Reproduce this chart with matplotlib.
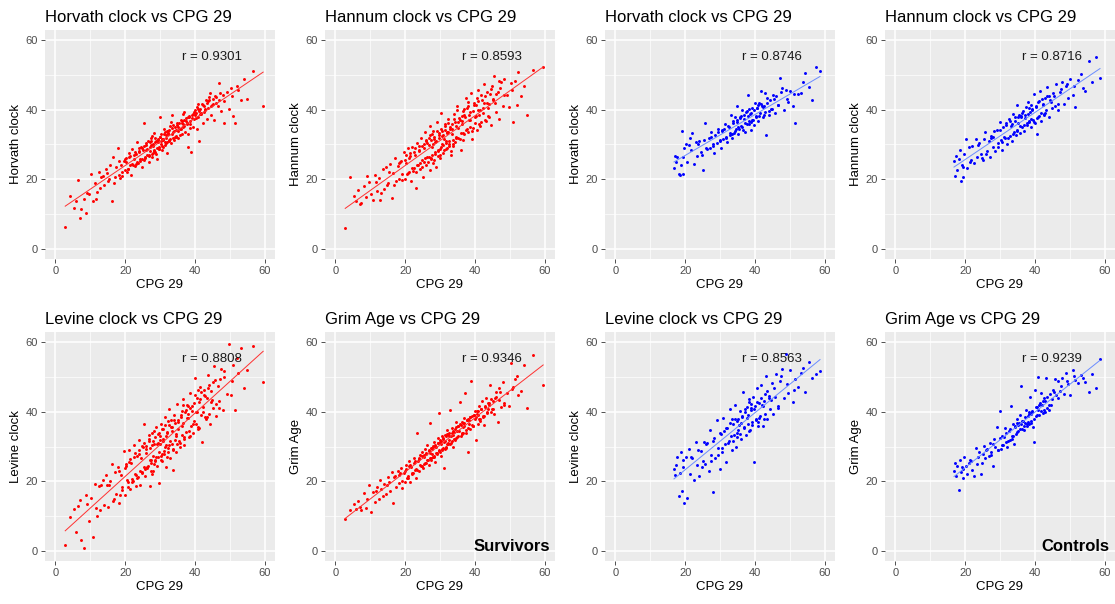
import numpy as np
import matplotlib
matplotlib.use("Agg")
import matplotlib.pyplot as plt
from matplotlib.ticker import MultipleLocator

plt.rcParams['font.family'] = ['Liberation Sans', 'DejaVu Sans']

# survivors: CPG 29 against the four epigenetic clocks
surv_cpg = [
    2.8, 4.1, 5.3, 5.9, 6.6, 7.4, 8.1, 8.9, 9.5,
    10.2, 10.8, 11.3, 11.9, 12.4, 12.9, 13.5, 14.0, 14.6, 15.1, 15.7, 16.2, 16.6, 17.1, 17.5, 17.9, 18.3, 18.8, 19.2, 19.6,
    20.0, 20.3, 20.7, 21.0, 21.4, 21.7, 22.0, 22.4, 22.7, 23.0, 23.3, 23.7, 24.0, 24.3, 24.6, 24.9, 25.2, 25.5, 25.8, 26.1,
    26.4, 26.7, 27.0, 27.2, 27.5, 27.8, 28.0, 28.3, 28.6, 28.8, 29.1, 29.4, 29.6, 29.9,
    30.2, 30.4, 30.7, 31.0, 31.2, 31.5, 31.8, 32.0, 32.3, 32.6, 32.9, 33.2, 33.5, 33.8, 34.1, 34.4, 34.7, 35.0, 35.3, 35.6,
    35.9, 36.2, 36.5, 36.9, 37.2, 37.5, 37.9, 38.2, 38.5, 38.9, 39.2, 39.6, 39.9,
    40.2, 40.5, 40.9, 41.2, 41.6, 42.0, 42.3, 42.7, 43.1, 43.5, 43.9, 44.3, 44.7, 45.1, 45.6, 46.0, 46.5, 47.0, 47.5, 48.0,
    48.5, 49.1, 49.7,
    50.3, 50.9, 51.6, 52.4, 53.3, 54.1, 55.0, 56.6, 59.6,
    15.4, 16.9, 18.1, 19.0, 19.9, 20.5, 21.2, 21.9, 22.6, 23.2,
    23.9, 24.4, 24.8, 25.4, 25.9, 26.3, 26.9, 27.3, 27.7, 28.2,
    28.5, 28.9, 29.3, 29.7, 30.0, 30.5, 30.9, 31.4, 31.7, 32.2,
    32.5, 33.0, 33.4, 33.7, 34.2, 34.6, 35.1, 35.5, 36.0, 36.4,
    36.8, 37.4, 37.8, 38.3, 38.7, 39.4, 39.8, 40.4, 40.8, 41.4,
    41.9, 42.5, 43.0, 43.7, 44.5, 45.3, 46.2, 47.2, 48.3, 11.6,
    13.2, 9.1, 7.0, 50.6, 52.0, 44.0, 41.0, 38.0, 36.7, 34.9,
    33.1, 27.6,
    20.1, 20.8, 21.5, 22.2, 22.9, 23.5, 24.1, 24.7, 25.3, 25.7,
    26.0, 26.5, 26.8, 27.1, 27.4, 27.9, 28.1, 28.4, 28.7, 29.0,
    29.5, 29.8, 30.1, 30.3, 30.6, 30.8, 31.1, 31.3, 31.6, 31.9,
    32.1, 32.4, 32.7, 33.3, 33.6, 34.0, 34.5, 35.2, 35.8, 36.3,
    36.6, 37.0, 37.7, 38.1, 38.6, 39.1, 39.7, 40.0, 40.6, 41.1,
    41.8, 42.4, 42.9, 43.4, 44.1, 44.9, 45.8, 46.8, 14.8, 18.6,
]
surv_horvath = [
    6.1, 15.2, 11.8, 13.6, 19.9, 11.5, 14.3, 10.4, 15.8,
    21.4, 13.7, 18.9, 16.4, 22.1, 17.5, 21.0, 18.2, 22.8, 19.4, 24.1, 13.6, 26.3, 20.6, 23.4, 28.9, 21.1, 24.2, 22.0, 25.3,
    22.6, 26.1, 23.0, 27.5, 24.1, 21.3, 28.6, 25.8, 23.9, 27.4, 30.6, 24.8, 27.9, 25.2, 29.3, 23.6, 28.4, 36.2, 26.0, 29.8,
    27.1, 24.9, 30.7, 28.0, 31.9, 26.5, 29.6, 33.2, 27.8, 30.9, 25.7, 31.4, 28.6, 37.8,
    30.9, 33.0, 28.4, 31.7, 34.5, 29.9, 32.6, 27.6, 33.8, 31.0, 35.2, 30.3, 38.6, 33.5, 31.2, 34.9, 32.4, 36.3, 31.8, 34.6,
    37.2, 33.1, 35.8, 39.4, 33.6, 36.7, 29.3, 37.9, 34.8, 27.7, 38.4, 35.1, 39.8,
    37.5, 34.6, 40.1, 30.9, 38.7, 41.6, 36.2, 39.5, 42.9, 37.3, 40.6, 44.7, 38.4, 41.8, 37.0, 43.6, 41.2, 47.8, 39.6, 44.3,
    36.3, 45.1, 40.2,
    46.4, 38.3, 36.2, 45.8, 42.8, 48.9, 43.0, 51.1, 41.0,
    20.0, 18.8, 25.2, 20.9, 25.9, 22.0, 26.3, 24.3, 27.0, 24.5,
    28.2, 25.9, 29.1, 25.6, 30.4, 28.7, 26.6, 29.9, 32.4, 28.3,
    30.6, 27.4, 31.7, 29.2, 32.1, 29.6, 31.3, 33.7, 30.4, 32.9,
    34.1, 31.5, 33.0, 35.6, 32.2, 34.2, 33.9, 36.1, 34.5, 36.9,
    35.2, 37.6, 36.0, 38.2, 36.8, 38.9, 37.3, 39.2, 38.0, 40.3,
    39.1, 41.2, 40.0, 42.4, 41.1, 43.0, 42.1, 44.9, 42.6, 14.2,
    20.6, 15.9, 8.9, 43.9, 47.0, 43.8, 41.7, 33.0, 38.7, 35.7,
    36.4, 27.3,
    25.1, 22.9, 26.6, 24.0, 27.8, 25.0, 28.9, 25.8, 29.5, 26.3,
    28.4, 30.9, 27.0, 29.4, 31.0, 27.6, 30.0, 28.2, 31.8, 29.0,
    30.8, 28.8, 32.3, 30.0, 31.5, 29.4, 33.0, 30.6, 32.0, 34.0,
    30.8, 33.4, 31.2, 34.7, 31.9, 34.0, 32.3, 35.0, 32.8, 36.1,
    34.9, 37.1, 36.2, 38.0, 35.9, 37.7, 39.3, 38.5, 40.8, 39.6,
    38.9, 41.4, 40.2, 41.9, 42.8, 41.5, 44.0, 42.7, 21.9, 20.4,
]
surv_hannum = [
    6.0, 20.5, 15.2, 13.7, 16.8, 13.2, 17.9, 14.8, 19.3,
    15.7, 14.1, 21.2, 16.6, 20.4, 13.9, 22.8, 17.3, 23.6, 19.0, 24.4, 14.6, 21.9, 26.2, 19.4, 23.9, 20.1, 25.3, 21.4, 27.8,
    20.0, 24.6, 28.9, 22.2, 26.7, 19.5, 29.4, 23.3, 27.1, 17.4, 30.3, 24.2, 28.5, 22.9, 31.8, 25.5, 20.6, 29.0, 33.6, 24.1,
    30.4, 26.3, 35.2, 22.7, 31.3, 27.0, 33.9, 25.4, 30.8, 23.6, 36.5, 28.1, 32.7, 26.0,
    39.2, 29.4, 33.8, 27.5, 31.6, 35.9, 28.8, 33.2, 37.4, 30.1, 34.6, 28.2, 36.0, 31.4, 38.9, 30.6, 35.4, 41.2, 32.0, 37.1,
    28.3, 35.8, 39.6, 32.9, 37.8, 43.5, 33.6, 38.4, 35.0, 44.9, 31.5, 39.7, 36.2,
    41.5, 34.3, 45.8, 38.6, 35.2, 42.7, 39.1, 47.4, 36.7, 42.0, 38.3, 44.5, 35.6, 43.2, 49.8, 39.4, 45.1, 37.3, 47.9, 41.0,
    49.0, 44.2, 40.7,
    47.6, 36.4, 48.3, 51.0, 44.1, 46.9, 38.6, 51.5, 52.2,
    22.1, 18.3, 24.7, 19.9, 25.6, 21.6, 26.0, 23.1, 27.7, 22.0,
    28.0, 24.6, 29.7, 25.0, 30.9, 26.4, 31.9, 25.8, 29.3, 32.3,
    27.2, 31.0, 26.6, 33.3, 28.6, 32.4, 29.9, 34.2, 30.5, 33.5,
    29.7, 35.0, 33.1, 30.2, 36.4, 31.9, 34.8, 37.6, 33.3, 36.8,
    38.5, 34.1, 40.4, 37.0, 39.3, 34.7, 41.4, 38.1, 42.6, 40.0,
    36.4, 41.9, 44.0, 40.6, 46.1, 42.8, 44.6, 46.3, 44.4, 19.2,
    16.0, 20.9, 12.8, 45.7, 41.5, 37.9, 39.9, 42.3, 31.4, 39.8,
    27.1, 33.0,
    26.9, 21.8, 27.5, 22.4, 28.9, 24.0, 29.6, 23.5, 30.2, 26.1,
    31.4, 25.0, 29.8, 32.6, 26.2, 30.1, 24.8, 31.7, 27.9, 33.8,
    28.5, 31.9, 27.0, 34.6, 30.0, 32.8, 28.4, 35.3, 30.9, 33.6,
    29.0, 36.2, 31.0, 34.4, 29.5, 37.3, 32.1, 36.6, 31.7, 38.1,
    33.2, 40.3, 34.4, 41.0, 37.2, 33.8, 42.1, 38.0, 43.3, 36.0,
    44.2, 40.4, 37.1, 45.0, 41.7, 46.9, 42.0, 48.4, 18.4, 24.9,
]
surv_levine = [
    1.6, 9.8, 12.1, 5.4, 12.9, 3.1, 0.7, 16.0, 8.4,
    15.3, 4.0, 19.2, 10.1, 18.5, 11.6, 20.4, 13.2, 21.8, 12.7, 20.0, 25.1, 14.4, 22.6, 16.3, 24.0, 13.8, 21.7, 17.5, 28.7,
    16.0, 24.3, 19.9, 28.9, 17.8, 25.2, 20.6, 30.5, 22.1, 18.7, 27.3, 21.2, 31.8, 19.0, 26.6, 22.4, 29.9, 36.6, 21.5, 28.1,
    24.0, 33.4, 18.6, 29.5, 25.3, 33.8, 22.9, 30.6, 26.2, 35.7, 24.5, 31.1, 19.6, 33.0,
    27.4, 36.4, 25.8, 32.2, 28.7, 38.6, 24.2, 34.1, 29.6, 40.8, 26.7, 35.6, 30.8, 23.3, 37.7, 32.0, 28.4, 42.3, 35.0, 29.9,
    38.5, 33.2, 43.6, 30.4, 39.8, 34.2, 41.7, 32.6, 45.5, 35.8, 40.3, 33.9, 49.8,
    36.4, 44.1, 35.0, 42.8, 47.2, 31.3, 41.5, 46.4, 37.9, 44.0, 50.6, 36.5, 45.9, 41.0, 53.2, 38.8, 47.3, 43.0, 52.4, 40.6,
    50.0, 45.2, 59.5,
    44.8, 53.6, 40.5, 51.2, 58.3, 47.0, 52.1, 58.9, 48.5,
    18.9, 14.9, 22.8, 18.4, 23.9, 20.3, 25.6, 19.7, 27.0, 21.9,
    27.8, 23.0, 30.1, 24.1, 29.2, 23.8, 31.5, 26.0, 30.4, 25.0,
    32.7, 27.1, 33.6, 28.4, 31.9, 27.9, 34.9, 30.0, 33.0, 28.3,
    36.2, 31.6, 34.6, 29.3, 36.9, 33.1, 37.5, 31.5, 39.0, 36.0,
    32.2, 40.6, 38.1, 34.5, 41.0, 36.6, 42.4, 40.0, 35.7, 43.8,
    39.0, 44.9, 38.6, 46.8, 42.9, 48.6, 42.2, 49.4, 51.7, 12.3,
    18.9, 13.4, 14.6, 48.9, 55.4, 39.5, 46.3, 39.4, 41.9, 30.7,
    37.6, 22.0,
    24.9, 18.2, 26.3, 20.0, 28.2, 20.8, 29.0, 22.6, 31.0, 23.4,
    30.2, 24.4, 32.3, 26.0, 23.0, 31.5, 27.4, 34.4, 25.9, 30.8,
    27.0, 34.0, 30.6, 26.2, 35.0, 31.5, 27.7, 36.3, 30.3, 33.9,
    27.1, 37.4, 30.5, 35.7, 28.9, 39.0, 33.7, 37.1, 31.0, 40.2,
    36.9, 32.6, 42.0, 38.2, 33.0, 41.6, 37.3, 44.7, 39.8, 35.4,
    45.6, 40.0, 44.5, 38.6, 47.8, 43.4, 49.2, 41.2, 18.8, 15.9,
]
surv_grim = [
    9.1, 11.7, 13.4, 12.0, 14.2, 11.6, 16.5, 12.3, 18.9,
    11.2, 16.8, 14.1, 18.3, 15.0, 20.3, 15.7, 19.2, 16.4, 21.1, 17.3, 22.6, 13.7, 21.6, 18.4, 22.9, 19.5, 23.7, 17.9, 22.4,
    19.8, 24.6, 21.0, 25.9, 19.7, 24.1, 22.3, 26.8, 23.1, 21.0, 33.9, 25.7, 22.8, 27.6, 24.3, 28.5, 23.9, 27.0, 29.4, 25.2,
    30.3, 24.6, 28.2, 36.8, 26.1, 29.7, 27.0, 31.2, 25.5, 29.9, 27.8, 32.5, 39.7, 28.4,
    31.6, 27.3, 32.9, 29.5, 23.7, 33.4, 30.0, 34.8, 30.7, 33.1, 40.5, 31.0, 35.4, 29.8, 34.3, 31.9, 37.2, 32.6, 35.9, 42.8,
    33.0, 37.0, 34.0, 38.3, 45.3, 33.8, 28.4, 37.7, 35.1, 49.0, 38.9, 35.8, 40.3,
    31.9, 39.3, 36.6, 41.6, 37.4, 43.1, 38.5, 36.2, 44.0, 39.6, 42.4, 47.6, 40.0, 43.2, 39.4, 45.7, 37.0, 46.9, 41.3, 48.7,
    42.0, 45.4, 41.6,
    54.2, 47.1, 49.5, 44.7, 46.0, 53.5, 41.0, 56.5, 47.7,
    19.8, 21.3, 21.8, 20.1, 23.0, 20.9, 24.4, 22.0, 25.3, 23.4,
    26.5, 24.7, 27.3, 25.1, 27.9, 26.2, 28.6, 26.8, 29.3, 27.4,
    30.5, 28.1, 30.9, 28.7, 31.2, 29.2, 32.2, 31.5, 29.6, 33.6,
    32.0, 30.8, 34.0, 33.2, 35.1, 32.4, 36.0, 34.5, 36.3, 33.6,
    36.9, 34.7, 37.6, 36.4, 38.6, 36.0, 39.2, 38.4, 40.1, 37.8,
    40.7, 38.9, 41.8, 40.9, 43.6, 40.8, 44.3, 45.8, 42.5, 17.2,
    17.8, 15.0, 12.7, 46.6, 50.2, 41.9, 39.0, 38.0, 35.6, 34.6,
    33.0, 27.7,
    23.5, 21.4, 24.6, 22.5, 25.9, 23.3, 26.8, 24.5, 27.6, 25.3,
    28.0, 26.0, 28.9, 26.6, 29.6, 27.1, 30.2, 26.9, 30.0, 28.0,
    31.0, 29.1, 31.9, 30.6, 28.9, 32.4, 31.2, 29.3, 32.9, 30.6,
    33.5, 30.9, 33.8, 31.6, 34.4, 32.3, 35.5, 33.1, 36.4, 34.0,
    36.7, 35.8, 37.5, 35.3, 38.5, 36.2, 39.0, 37.8, 40.2, 37.9,
    40.8, 38.7, 41.4, 39.8, 42.6, 40.9, 44.1, 43.3, 19.0, 22.3,
]

# controls
ctrl_cpg = [
    16.8, 17.0, 17.4, 17.8, 18.1, 18.4, 18.8, 19.1, 19.5, 19.8, 20.2, 20.6, 21.0, 21.5, 22.0, 22.5, 23.0, 23.5, 24.0, 24.5,
    25.0, 25.4,
    25.8, 26.2, 26.7, 27.1, 27.5, 27.9, 28.3, 28.7, 29.1, 29.5, 29.9, 30.3, 30.7, 31.0, 31.4, 31.8, 32.1, 32.5, 32.8, 33.1,
    33.5, 33.8, 34.1, 34.4, 34.7, 35.0,
    35.3, 35.6, 35.9, 36.2, 36.5, 36.8, 37.1, 37.4, 37.7, 38.0, 38.3, 38.6, 38.9, 39.2, 39.5, 39.8, 40.1, 40.4, 40.7, 41.0,
    41.3, 41.6, 41.9, 42.2, 42.5, 42.8, 43.2, 43.6, 44.0, 44.4, 44.8, 45.2,
    45.7, 46.2, 46.7, 47.2, 47.7, 48.3, 48.9, 49.5, 50.2, 50.9, 51.6, 52.4, 53.3, 54.3, 55.4, 56.5, 57.6, 58.7,
    31.2, 33.3, 34.9, 36.0, 37.9, 39.0, 40.9, 42.0, 43.0, 44.2, 35.1, 38.4,
    28.0, 29.3, 30.0, 30.5, 31.6, 32.3, 32.9, 33.7, 34.3, 34.8,
    35.4, 35.8, 36.4, 36.9, 37.3, 37.8, 38.2, 38.8, 39.3, 39.7,
    40.2, 40.6, 41.2, 41.7, 42.3, 42.7, 43.4, 44.6, 45.5, 46.5,
    47.5, 49.2, 21.8, 23.8, 26.0, 27.3, 24.7, 19.3, 53.8, 51.2,
]
ctrl_horvath = [
    23.1, 26.6, 25.0, 26.5, 21.6, 21.3, 24.0, 34.0, 21.5, 28.9, 30.2, 25.1, 29.8, 32.0, 33.3, 24.4, 30.7, 26.6, 30.9, 27.9,
    22.6, 31.4,
    36.1, 28.6, 31.9, 29.1, 33.7, 30.0, 27.5, 32.8, 30.3, 34.4, 31.0, 29.1, 33.9, 31.6, 35.9, 32.1, 30.7, 35.0, 33.2, 38.6,
    31.8, 36.7, 33.4, 38.0, 34.6, 41.0,
    33.0, 37.6, 35.2, 39.8, 34.1, 37.3, 33.5, 39.4, 36.0, 44.3, 35.8, 38.8, 34.3, 40.5, 37.1, 35.5, 41.9, 38.2, 40.6, 36.9,
    42.1, 39.0, 45.5, 37.8, 41.2, 39.3, 32.7, 43.4, 38.5, 42.9, 40.1, 44.2,
    39.0, 44.0, 41.3, 49.1, 46.2, 40.0, 45.7, 42.3, 45.4, 41.1, 36.2, 44.6, 44.8, 50.7, 46.7, 42.9, 52.4, 51.1,
    34.6, 32.9, 36.4, 38.1, 38.3, 36.4, 41.3, 41.0, 44.9, 39.6, 35.0, 40.1,
    29.6, 33.5, 31.4, 34.2, 32.0, 35.4, 32.7, 36.1, 33.9, 37.0,
    34.6, 37.9, 35.1, 38.5, 36.3, 39.6, 36.7, 39.0, 37.2, 40.0,
    37.9, 40.4, 38.1, 41.7, 40.7, 38.6, 42.0, 40.3, 43.1, 41.5,
    45.0, 43.0, 28.5, 30.0, 29.0, 32.2, 26.9, 26.4, 48.0, 44.5,
]
ctrl_hannum = [
    25.2, 21.0, 26.8, 22.6, 25.9, 28.3, 19.5, 24.0, 20.7, 27.4, 31.6, 23.3, 29.4, 25.0, 29.7, 24.8, 31.5, 26.5, 30.4, 27.2,
    25.5, 31.6,
    33.5, 28.0, 30.9, 26.3, 32.4, 29.4, 33.9, 28.2, 34.3, 30.5, 36.5, 31.2, 28.5, 34.9, 31.8, 36.3, 30.1, 37.4, 32.5, 35.4,
    31.0, 38.8, 33.6, 36.7, 32.8, 41.3,
    36.2, 33.4, 38.1, 35.0, 39.6, 33.8, 37.5, 40.9, 35.6, 42.3, 36.4, 39.3, 34.9, 40.2, 37.0, 44.6, 36.1, 40.8, 33.0, 42.2,
    38.2, 45.3, 36.9, 41.7, 38.8, 43.5, 40.0, 46.6, 37.8, 42.9, 40.4, 44.7,
    41.1, 47.5, 39.9, 45.2, 48.0, 41.6, 47.0, 43.5, 49.0, 44.3, 40.9, 48.6, 50.2, 45.3, 54.0, 48.0, 55.2, 49.2,
    32.2, 36.0, 34.1, 37.8, 38.9, 41.5, 38.0, 43.1, 39.2, 44.0, 37.9, 36.8,
    32.3, 29.2, 34.1, 30.7, 35.6, 32.0, 36.9, 33.1, 37.8, 34.0,
    38.6, 35.2, 39.0, 35.5, 38.4, 36.1, 40.6, 37.3, 39.9, 36.4,
    41.0, 37.6, 42.4, 39.0, 41.3, 38.5, 43.9, 42.2, 44.0, 41.8,
    46.1, 47.3, 25.6, 29.9, 27.4, 31.8, 26.0, 23.4, 46.4, 47.0,
]
ctrl_levine = [
    23.4, 21.9, 24.8, 27.0, 15.6, 22.3, 28.4, 17.3, 24.1, 13.8, 26.9, 15.1, 29.2, 22.0, 26.6, 20.3, 31.2, 24.7, 21.5, 28.8,
    25.9, 31.3,
    25.0, 31.1, 22.8, 34.7, 27.6, 16.8, 32.4, 26.8, 37.6, 29.7, 23.6, 33.5, 28.3, 38.3, 30.8, 25.4, 35.2, 31.5, 40.7, 33.0,
    28.9, 36.6, 33.2, 42.0, 30.0, 37.3,
    34.7, 40.1, 32.3, 38.7, 45.8, 35.6, 39.9, 33.4, 41.3, 36.6, 43.7, 34.8, 40.5, 37.0, 44.2, 25.6, 41.8, 37.6, 46.9, 35.9,
    42.4, 38.8, 47.6, 36.0, 43.1, 39.5, 50.4, 37.8, 44.6, 40.9, 48.2, 39.3,
    44.3, 51.0, 41.8, 48.9, 52.3, 44.0, 56.6, 45.3, 52.1, 42.9, 49.4, 47.2, 51.3, 45.6, 54.4, 49.6, 51.0, 51.8,
    34.5, 37.9, 32.8, 36.7, 39.1, 41.0, 37.2, 41.9, 45.0, 44.0, 37.8, 42.7,
    31.6, 27.5, 34.0, 29.6, 35.3, 30.9, 36.9, 31.6, 38.0, 33.9,
    36.3, 33.6, 38.5, 35.2, 40.8, 38.2, 34.6, 42.2, 36.2, 40.9,
    37.9, 42.8, 38.1, 44.0, 41.6, 38.0, 46.1, 43.5, 47.0, 41.0,
    50.3, 48.1, 26.9, 29.0, 30.6, 25.7, 24.2, 26.0, 52.5, 46.2,
]
ctrl_grim = [
    22.9, 25.3, 21.6, 24.5, 17.5, 26.1, 22.7, 24.0, 20.8, 26.9, 24.3, 22.0, 25.2, 26.0, 23.2, 21.4, 29.5, 25.0, 28.3, 22.1,
    27.9, 30.2,
    26.8, 29.4, 27.2, 31.0, 28.5, 24.3, 32.1, 29.8, 35.5, 28.9, 40.2, 29.3, 33.1, 30.5, 35.2, 31.3, 29.9, 34.6, 31.9, 41.8,
    32.2, 36.4, 30.7, 35.6, 33.6, 37.9,
    36.1, 39.2, 47.4, 35.1, 37.4, 34.7, 36.8, 40.5, 35.9, 38.7, 36.6, 44.3, 36.9, 40.0, 35.5, 31.3, 46.3, 38.8, 41.4, 50.1,
    39.1, 42.6, 45.5, 39.6, 44.1, 40.0, 49.6, 41.2, 40.4, 45.0, 43.8, 46.2,
    49.5, 44.9, 48.8, 46.1, 49.8, 45.2, 51.2, 48.0, 44.8, 52.0, 49.3, 48.2, 50.5, 48.7, 45.8, 50.9, 46.9, 55.2,
    32.8, 33.1, 36.8, 36.4, 37.0, 39.4, 40.6, 41.9, 43.0, 42.1, 34.5, 39.8,
    30.7, 29.1, 32.4, 30.4, 34.0, 31.7, 34.9, 32.9, 36.0, 34.1,
    36.9, 35.0, 37.3, 36.0, 38.5, 36.5, 39.4, 37.4, 40.3, 38.0,
    41.3, 39.2, 42.0, 40.1, 43.0, 40.6, 44.4, 42.0, 45.6, 43.9,
    47.4, 48.9, 25.7, 27.1, 28.9, 27.6, 25.3, 23.6, 49.7, 50.3,
]

clock_names = ["Horvath clock", "Hannum clock", "Levine clock", "Grim Age"]
surv_r = ["0.9301", "0.8593", "0.8808", "0.9346"]
ctrl_r = ["0.8746", "0.8716", "0.8563", "0.9239"]

surv_y = [surv_horvath, surv_hannum, surv_levine, surv_grim]
ctrl_y = [ctrl_horvath, ctrl_hannum, ctrl_levine, ctrl_grim]

W, H = 1115, 604
fig = plt.figure(figsize=(W / 100, H / 100), dpi=100)

col_left = [45, 325, 605, 885]
row_top = [30, 332]
pw, ph = 230, 229


def panel(ax, x, y, clock, r_text, pt_color, line_color):
    ax.set_facecolor('#EBEBEB')
    for s in ax.spines.values():
        s.set_visible(False)
    ax.set_xlim(-3, 63)
    ax.set_ylim(-3, 63)
    ax.xaxis.set_major_locator(MultipleLocator(20))
    ax.yaxis.set_major_locator(MultipleLocator(20))
    ax.xaxis.set_minor_locator(MultipleLocator(10))
    ax.yaxis.set_minor_locator(MultipleLocator(10))
    ax.grid(which='major', color='white', lw=1.1)
    ax.grid(which='minor', color='white', lw=0.5)
    ax.set_axisbelow(True)
    ax.tick_params(which='major', length=3, width=0.6, color='#333333',
                   labelsize=8, labelcolor='#4D4D4D', pad=2)
    ax.tick_params(which='minor', length=0)

    x = np.asarray(x)
    y = np.asarray(y)
    ax.scatter(x, y, s=4.5, color=pt_color, linewidths=0, zorder=3)
    b, a = np.polyfit(x, y, 1)
    xs = np.array([x.min(), x.max()])
    ax.plot(xs, a + b * xs, color=line_color, lw=0.7, zorder=4)

    ax.text(45, 55.2, f"r = {r_text}", ha='center', va='center',
            fontsize=9.5, color='#1A1A1A', zorder=5)
    ax.set_title(f"{clock} vs CPG 29", loc='left', fontsize=12, pad=6,
                 color='black')
    ax.set_xlabel("CPG 29", fontsize=9.5, labelpad=2)
    ax.set_ylabel(clock, fontsize=9.5, labelpad=3)


layout = [
    # (row, col, group, clock index)
    (0, 0, 's', 0), (0, 1, 's', 1), (0, 2, 'c', 0), (0, 3, 'c', 1),
    (1, 0, 's', 2), (1, 1, 's', 3), (1, 2, 'c', 2), (1, 3, 'c', 3),
]

for row, col, grp, k in layout:
    left = col_left[col] / W
    bottom = 1 - (row_top[row] + ph) / H
    ax = fig.add_axes([left, bottom, pw / W, ph / H])
    if grp == 's':
        panel(ax, surv_cpg, surv_y[k], clock_names[k], surv_r[k], '#FF0000', '#FF3030')
    else:
        panel(ax, ctrl_cpg, ctrl_y[k], clock_names[k], ctrl_r[k], '#0000FF', '#6A8CFF')
    if row == 1 and col == 1:
        ax.text(61.5, 1.2, "Survivors", ha='right', va='center',
                fontsize=12, fontweight='bold', zorder=6)
    if row == 1 and col == 3:
        ax.text(61.5, 1.2, "Controls", ha='right', va='center',
                fontsize=12, fontweight='bold', zorder=6)

fig.savefig("out.png", dpi=100)
